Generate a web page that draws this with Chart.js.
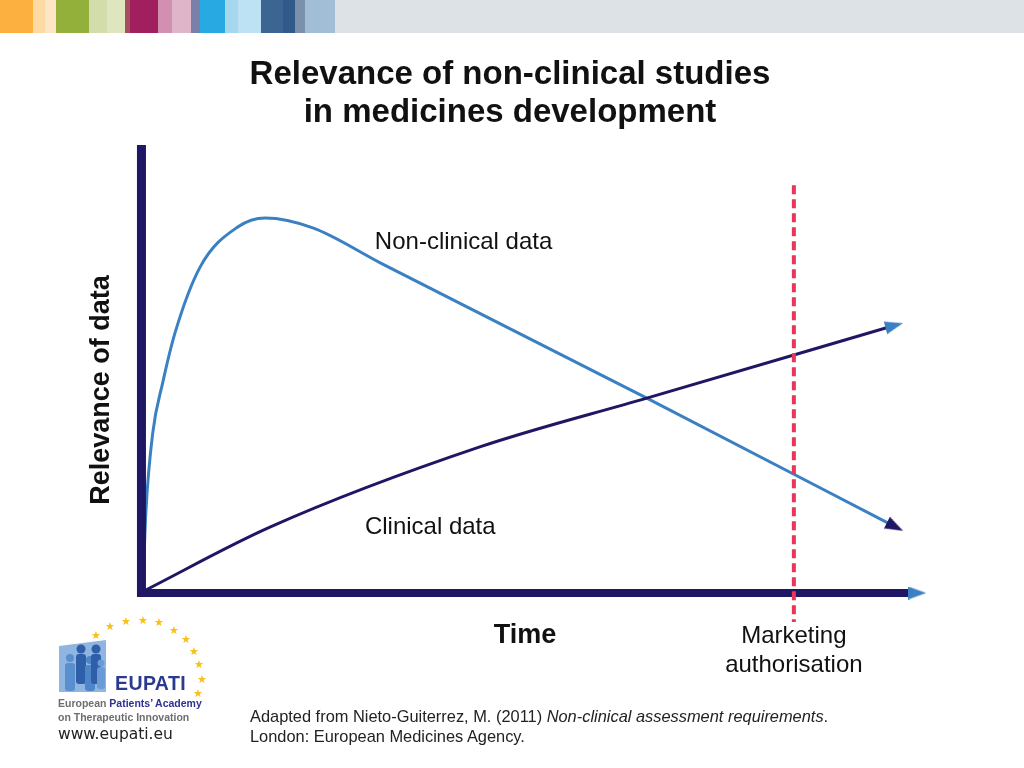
<!DOCTYPE html>
<html>
<head>
<meta charset="utf-8">
<script src="https://cdn.jsdelivr.net/npm/chart.js@4.4.1/dist/chart.umd.min.js"></script>
<style>
  body { margin: 0; background: #fff; font-family: "Liberation Sans", Arial, sans-serif; }
  #page { position: relative; width: 1024px; height: 768px; overflow: hidden; }
  #chart { position: absolute; left: 0; top: 0; }
  .strip { position: absolute; top: 0; height: 33px; }
  .title { position: absolute; left: 0; width: 1020px; top: 54px; text-align: center;
           font-weight: bold; font-size: 33px; line-height: 38px; color: #111; }
  .source { position: absolute; left: 250px; top: 706px; font-size: 16.4px; line-height: 20px; color: #222; }
  .star { position: absolute; color: #f6c11a; font-size: 11px; line-height: 11px; }
  .logo-txt { position: absolute; font-family: "Liberation Sans", Arial, sans-serif; white-space: nowrap; }
</style>
</head>
<body>
<div id="page">
  <canvas id="chart" width="1024" height="768"></canvas>
  <div id="strips"></div>
  <div class="title">Relevance of non-clinical studies<br>in medicines development</div>
  <div class="source">Adapted from Nieto-Guiterrez, M. (2011) <i>Non-clinical assessment requirements</i>.<br>London: European Medicines Agency.</div>
  <div id="logo">
    <svg style="position:absolute;left:56px;top:636px" width="56" height="60">
      <polygon points="3,10 50,4 50,56 3,56" fill="#8fb6e0"/>
      <circle cx="14" cy="22" r="4" fill="#5a8fcf"/><rect x="9" y="27" width="10" height="28" rx="3" fill="#5a8fcf"/>
      <circle cx="25" cy="13" r="4.5" fill="#2f5fa8"/><rect x="20" y="18" width="10" height="30" rx="3" fill="#2f5fa8"/>
      <circle cx="34" cy="24" r="4" fill="#4d86c8"/><rect x="29" y="29" width="10" height="26" rx="3" fill="#4d86c8"/>
      <circle cx="40" cy="13" r="4.5" fill="#2f5fa8"/><rect x="35" y="18" width="10" height="30" rx="3" fill="#2f5fa8"/>
      <circle cx="45" cy="27" r="3.5" fill="#6a9bd6"/><rect x="41" y="31" width="8" height="22" rx="3" fill="#6a9bd6"/>
    </svg>
    <div class="logo-txt" style="left:115px;top:672px;font-size:19.5px;font-weight:bold;color:#2b3a8f;letter-spacing:0.4px">EUPATI</div>
    <div class="logo-txt" style="left:58px;top:697px;font-size:10.5px;font-weight:bold;color:#6d6e71">European <span style="color:#2e3192">Patients’ Academy</span></div>
    <div class="logo-txt" style="left:58px;top:711px;font-size:10.5px;font-weight:bold;color:#6d6e71">on Therapeutic Innovation</div>
    <div class="logo-txt" style="left:58px;top:725px;font-size:15.5px;font-family:'DejaVu Sans',sans-serif;color:#222">www.eupati.eu</div>
  </div>
</div>
<script>
// top colour band (left edge, colour)
const stripLefts = [0, 33, 45, 56, 89, 107, 125, 130, 158, 172, 191, 200, 225, 238, 261, 283, 295, 305, 335];
const stripColors = ['#fbb03f', '#fdd9a4', '#fde6c5', '#93b13a', '#d2ddab', '#dfe5bf', '#a4505c', '#a21f5f',
  '#d38fb0', '#dfb5c9', '#7b80a9', '#29a9e1', '#a7d7ef', '#bde2f3', '#3d6592', '#2f5a89', '#7a90ab', '#a2bed6', '#dde2e7'];

// logo stars (page pixels, decorative)
const starX = [96, 110, 126, 143, 159, 174, 186, 194, 199, 202, 198];
const starY = [636, 627, 622, 621, 623, 631, 640, 652, 665, 680, 694];

// chart data: time (0-100) vs relevance (0-100)
const nonClinicalTime = [0.1, 0.5, 1.4, 2.7, 4.3, 7.6, 12.5, 16.1, 22.3, 31.1, 65.9, 98.3];
const nonClinicalRel = [0.5, 17.9, 35.7, 46.9, 58.0, 72.8, 81.7, 83.7, 81.5, 73.7, 43.5, 14.8];
const clinicalTime = [0.3, 16.7, 44.1, 65.9, 98.2];
const clinicalRel = [0.5, 14.7, 32.6, 43.5, 59.7];
const marketingTime = 85.1;
const markerRel = [91, -6.5];

const NAVY = '#1f1763';
const BLUE = '#3a80c2';
const RED = '#e8365b';

const strips = document.getElementById('strips');
stripLefts.forEach((l, i) => {
  const d = document.createElement('div');
  d.className = 'strip';
  d.style.left = l + 'px';
  d.style.width = ((stripLefts[i + 1] || 1024) - l) + 'px';
  d.style.background = stripColors[i];
  strips.appendChild(d);
});
const logo = document.getElementById('logo');
starX.forEach((x, i) => {
  const s = document.createElement('div');
  s.className = 'star';
  s.textContent = '★';
  s.style.left = (x - 5) + 'px';
  s.style.top = (starY[i] - 6) + 'px';
  logo.appendChild(s);
});

//arrowhead image pointing up, rotated by chart.js
function arrowHead(color, w, h) {
  const c = document.createElement('canvas');
  c.width = w; c.height = h;
  const g = c.getContext('2d');
  g.fillStyle = color;
  g.beginPath();
  g.moveTo(w / 2, 0);
  g.lineTo(w, h);
  g.lineTo(0, h);
  g.closePath();
  g.fill();
  return c;
}
const headBlue = arrowHead(BLUE, 13, 18);
const headNavy = arrowHead(NAVY, 13, 18);

function toPoints(xs, ys) {
  return xs.map((x, i) => ({ x, y: ys[i] }));
}
function lastOnly(n, val, other) {
  return Array.from({ length: n }, (_, i) => i === n - 1 ? val : other);
}

//texts placed with the scales
const labelPlugin = {
  id: 'labels',
  afterDatasetsDraw(chart) {
    const { ctx, scales: { x, y } } = chart;
    ctx.save();
    ctx.fillStyle = '#111';
    ctx.textBaseline = 'middle';
    ctx.font = '24px "Liberation Sans", Arial, sans-serif';
    ctx.textAlign = 'left';
    ctx.fillText('Non-clinical data', x.getPixelForValue(30.4), y.getPixelForValue(78.3));
    ctx.fillText('Clinical data', x.getPixelForValue(29.1), y.getPixelForValue(14.7));
    ctx.textAlign = 'center';
    ctx.fillText('Marketing', x.getPixelForValue(marketingTime), y.bottom + 43);
    ctx.fillText('authorisation', x.getPixelForValue(marketingTime), y.bottom + 72);
    ctx.font = 'bold 27px "Liberation Sans", Arial, sans-serif';
    ctx.fillText('Time', (x.left + x.right) / 2, y.bottom + 43);
    ctx.translate(102, 390);
    ctx.rotate(-Math.PI / 2);
    ctx.fillText('Relevance of data', 0, 0);
    ctx.restore();
  }
};

new Chart(document.getElementById('chart'), {
  type: 'scatter',
  data: {
    datasets: [
      {
        label: 'Marketing authorisation',
        data: markerRel.map(v => ({ x: marketingTime, y: v })),
        showLine: true, borderColor: RED, borderWidth: 4, borderDash: [9, 5],
        pointRadius: 0, clip: false
      },
      {
        label: 'x axis',
        data: [{ x: -0.65, y: 0 }, { x: 100, y: 0 }],
        showLine: true, borderColor: NAVY, borderWidth: 8, borderCapStyle: 'butt',
        pointRadius: 0, clip: false
      },
      {
        label: 'x arrow',
        data: [{ x: 101.2, y: 0 }],
        pointStyle: headBlue, pointRotation: 90, pointRadius: 9, clip: false
      },
      {
        label: 'y axis',
        data: [{ x: -0.07, y: -0.9 }, { x: -0.07, y: 100 }],
        showLine: true, borderColor: NAVY, borderWidth: 9, borderCapStyle: 'butt',
        pointRadius: 0, clip: false
      },
      {
        label: 'Clinical data',
        data: toPoints(clinicalTime, clinicalRel),
        showLine: true, borderColor: NAVY, borderWidth: 3, cubicInterpolationMode: 'monotone',
        pointRadius: lastOnly(clinicalTime.length, 9, 0),
        pointStyle: headBlue, pointRotation: 75, clip: false
      },
      {
        label: 'Non-clinical data',
        data: toPoints(nonClinicalTime, nonClinicalRel),
        showLine: true, borderColor: BLUE, borderWidth: 3, cubicInterpolationMode: 'monotone',
        pointRadius: lastOnly(nonClinicalTime.length, 9, 0),
        pointStyle: headNavy, pointRotation: 117, clip: false
      }
    ]
  },
  options: {
    responsive: false,
    animation: false,
    layout: { padding: { left: 142, right: 116, top: 145, bottom: 175 } },
    scales: {
      x: { type: 'linear', min: 0, max: 100, display: false },
      y: { type: 'linear', min: 0, max: 100, display: false }
    },
    plugins: { legend: { display: false }, tooltip: { enabled: false }, title: { display: false } }
  },
  plugins: [labelPlugin]
});
</script>
</body>
</html>
